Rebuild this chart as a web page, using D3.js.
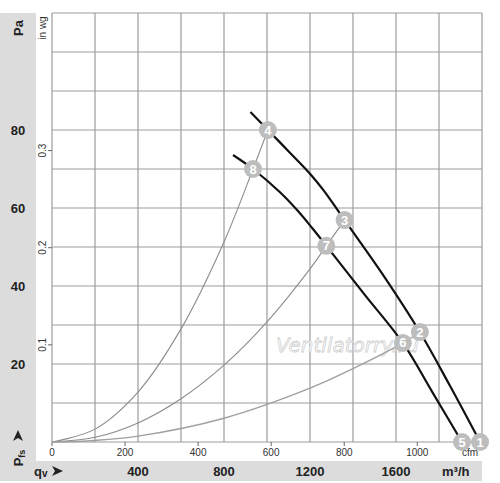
<!DOCTYPE html>
<html>
<head>
<meta charset="utf-8">
<script src="https://cdn.jsdelivr.net/npm/d3@7"></script>
<style>
  body { margin: 0; background: #fff; }
  svg { display: block; font-family: "Liberation Sans", Arial, sans-serif; }
</style>
</head>
<body>
<svg id="chart" width="500" height="483"></svg>
<script>
// axis ticks
var paTicks = [20, 40, 60, 80];
var flowTicks = [400, 800, 1200, 1600];
var cfmTicks = [0, 200, 400, 600, 800, 1000];
var inwgTicks = [0.1, 0.2, 0.3];

// fan curves (m3/h, Pa)
var fanHigh = [[923, 84.6], [1004, 80], [1110, 74.0], [1203, 68.6], [1265, 64.4], [1327, 59.6], [1361, 56.9], [1538, 43], [1711, 28.2], [1851, 14.4], [1991, 0]];
var fanLow = [[842, 73.6], [935, 70], [1063, 63.9], [1141, 59.4], [1211, 54.8], [1276, 50.3], [1454, 37.8], [1632, 25.4], [1769, 12.8], [1907, 0]];

// system curves
var sysA = [[0, 0], [200, 3.3], [400, 12.8], [600, 29], [800, 51.3], [935, 70], [1004, 80]];
var sysB = [[0, 0], [200, 1.2], [400, 4.9], [600, 11.1], [800, 19.7], [1000, 30.8], [1200, 44.4], [1276, 50.3], [1361, 56.9]];
var sysC = [[0, 0], [200, 0.4], [400, 1.5], [800, 6.1], [1200, 13.8], [1400, 18.8], [1632, 25.4], [1711, 28.2]];

// numbered operating points
var pointLabels = ["1", "2", "3", "4", "5", "6", "7", "8"];
var pointFlow = [1991, 1711, 1361, 1004, 1907, 1632, 1276, 935];
var pointPa = [0, 28.2, 56.9, 80, 0, 25.4, 50.3, 70];

var svg = d3.select("#chart");
var x = d3.scaleLinear().domain([0, 2000]).range([52, 482]);
var y = d3.scaleLinear().domain([0, 110]).range([442, 13]);

// grey bands
svg.append("rect").attr("x", 0).attr("y", 13).attr("width", 36).attr("height", 468).attr("fill", "#dcdcdc");
svg.append("rect").attr("x", 0).attr("y", 461).attr("width", 482).attr("height", 20).attr("fill", "#dcdcdc");

// grid
var grid = svg.append("g").attr("stroke", "#9c9c9c").attr("stroke-width", 1.2);
grid.selectAll("line.v").data(d3.range(0, 2001, 200)).enter().append("line")
  .attr("x1", d => x(d)).attr("x2", d => x(d)).attr("y1", y(0)).attr("y2", y(110));
grid.selectAll("line.h").data(d3.range(0, 111, 10)).enter().append("line")
  .attr("y1", d => y(d)).attr("y2", d => y(d)).attr("x1", x(0)).attr("x2", x(2000));

// watermark
svg.append("text").attr("x", 276).attr("y", 352)
  .attr("font-size", 20).attr("font-style", "italic").attr("font-family", "DejaVu Sans")
  .attr("fill", "#fff").attr("stroke", "#d0d0d0").attr("stroke-width", 0.8)
  .text("Ventilatorry.ru");

// Pa labels
svg.selectAll("text.pa").data(paTicks).enter().append("text")
  .attr("x", 18).attr("y", d => y(d) + 5).attr("text-anchor", "middle")
  .attr("font-size", 13).attr("font-weight", "bold").attr("fill", "#222")
  .text(d => d);
svg.append("text").attr("transform", "translate(23,28) rotate(-90)")
  .attr("text-anchor", "middle").attr("font-size", 13).attr("font-weight", "bold").attr("fill", "#222")
  .text("Pa");

// Pfs label with arrow
var pfs = svg.append("text").attr("transform", "translate(23,458) rotate(-90)")
  .attr("text-anchor", "middle").attr("font-size", 13).attr("font-weight", "bold").attr("fill", "#222");
pfs.append("tspan").text("P");
pfs.append("tspan").attr("font-size", 9).attr("dy", 2).text("fs");
svg.append("path").attr("d", "M-5,0 L0,-11 L5,0 L0,-3 Z").attr("transform", "translate(18,441)").attr("fill", "#222");

// flow labels in bottom band
svg.selectAll("text.q").data(flowTicks).enter().append("text")
  .attr("x", d => x(d)).attr("y", 476).attr("text-anchor", "middle")
  .attr("font-size", 13).attr("font-weight", "bold").attr("fill", "#222")
  .text(d => d);
svg.append("text").attr("x", 442).attr("y", 476)
  .attr("font-size", 13).attr("font-weight", "bold").attr("fill", "#222").text("m³/h");
var qv = svg.append("text").attr("x", 34).attr("y", 476)
  .attr("font-size", 13).attr("font-weight", "bold").attr("fill", "#222");
qv.append("tspan").text("q");
qv.append("tspan").attr("font-size", 10).attr("dy", 1).text("v");
svg.append("path").attr("d", "M0,-5 L11,0 L0,5 L3,0 Z").attr("transform", "translate(52,471)").attr("fill", "#222");

// secondary axes: cfm and in wg
svg.selectAll("line.cfm").data(cfmTicks).enter().append("line")
  .attr("x1", d => x(d * 1.699)).attr("x2", d => x(d * 1.699))
  .attr("y1", 442).attr("y2", 446).attr("stroke", "#666");
svg.selectAll("text.cfm").data(cfmTicks).enter().append("text")
  .attr("x", d => x(d * 1.699)).attr("y", 456).attr("text-anchor", "middle")
  .attr("font-size", 10).attr("fill", "#333").text(d => d);
svg.append("text").attr("x", 470).attr("y", 456).attr("text-anchor", "middle")
  .attr("font-size", 10).attr("fill", "#333").text("cfm");

svg.selectAll("line.inwg").data(inwgTicks).enter().append("line")
  .attr("x1", 48).attr("x2", 52).attr("y1", d => y(d * 249.09)).attr("y2", d => y(d * 249.09))
  .attr("stroke", "#666");
svg.selectAll("text.inwg").data(inwgTicks).enter().append("text")
  .attr("transform", d => "translate(46," + y(d * 249.09) + ") rotate(-90)")
  .attr("text-anchor", "middle").attr("font-size", 10).attr("fill", "#333").text(d => d);
svg.append("text").attr("transform", "translate(46,28) rotate(-90)")
  .attr("text-anchor", "middle").attr("font-size", 10).attr("fill", "#333").text("in wg");

// curves
var line = d3.line().x(d => x(d[0])).y(d => y(d[1])).curve(d3.curveCatmullRom);
svg.append("path").attr("d", line(sysA)).attr("fill", "none").attr("stroke", "#8c8c8c").attr("stroke-width", 1.1);
svg.append("path").attr("d", line(sysB)).attr("fill", "none").attr("stroke", "#8c8c8c").attr("stroke-width", 1.1);
svg.append("path").attr("d", line(sysC)).attr("fill", "none").attr("stroke", "#a0a0a0").attr("stroke-width", 1.4);
svg.append("path").attr("d", line(fanHigh)).attr("fill", "none").attr("stroke", "#111").attr("stroke-width", 2.2);
svg.append("path").attr("d", line(fanLow)).attr("fill", "none").attr("stroke", "#111").attr("stroke-width", 2.2);

// points
var pts = svg.selectAll("g.pt").data(pointLabels).enter().append("g")
  .attr("transform", (d, i) => "translate(" + x(pointFlow[i]) + "," + y(pointPa[i]) + ")");
pts.append("circle").attr("r", 9).attr("fill", "#bdbdbd");
pts.append("text").attr("text-anchor", "middle").attr("y", 4.5)
  .attr("font-size", 13).attr("font-weight", "bold").attr("fill", "#fff").text(d => d);
</script>
</body>
</html>
